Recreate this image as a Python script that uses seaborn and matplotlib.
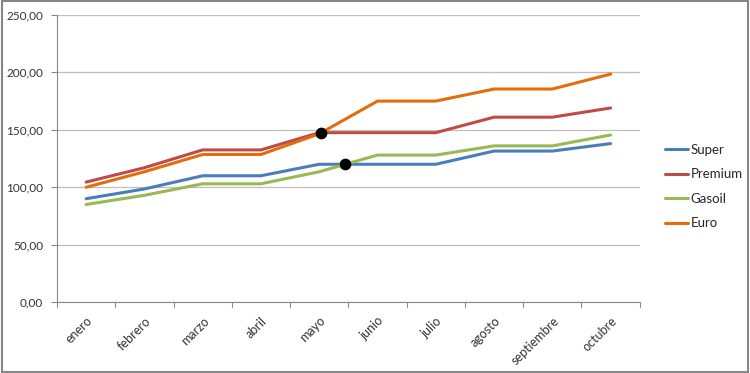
import numpy as np
import pandas as pd
import matplotlib
matplotlib.use("Agg")
import matplotlib.pyplot as plt
import seaborn as sns
from matplotlib.patches import Rectangle

months = ["enero", "febrero", "marzo", "abril", "mayo", "junio", "julio",
          "agosto", "septiembre", "octubre"]
super_vals = [90.0, 98.5, 110.0, 110.0, 120.0, 120.0, 120.0, 131.5, 131.5, 138.0]
premium_vals = [104.5, 117.0, 132.5, 132.5, 147.5, 147.5, 147.5, 161.0, 161.0, 169.0]
gasoil_vals = [85.0, 93.0, 103.0, 103.0, 113.5, 128.0, 128.0, 136.0, 136.0, 145.5]
euro_vals = [100.0, 113.5, 128.5, 128.5, 146.5, 175.0, 175.0, 185.5, 185.5, 198.5]
series_names = ["Super", "Premium", "Gasoil", "Euro"]
colors = ["#4A7EBB", "#BE4B48", "#98B954", "#E46C0A"]
y_ticks = [0, 50, 100, 150, 200, 250]

series = dict(zip(series_names, [super_vals, premium_vals, gasoil_vals, euro_vals]))
rows = []
for name, vals in series.items():
    for i, v in enumerate(vals):
        rows.append({"idx": i, "value": v, "serie": name})
df = pd.DataFrame(rows)

sns.set_style("white")
plt.rcParams["font.family"] = ["Lato", "DejaVu Sans"]

fig = plt.figure(figsize=(7.5, 3.73), dpi=100)
ax = fig.add_axes([0.076, 0.19, 0.777, 0.77])

sns.lineplot(data=df, x="idx", y="value", hue="serie", hue_order=series_names,
             palette=colors, linewidth=2.2, ax=ax, legend=True, sort=False,
             estimator=None)


def crossing(a, b, seg):
    a0, a1 = a[seg], a[seg + 1]
    b0, b1 = b[seg], b[seg + 1]
    d0, d1 = a0 - b0, a1 - b1
    t = d0 / (d0 - d1)
    return seg + t, a0 + t * (a1 - a0)


p1 = crossing(premium_vals, euro_vals, 4)
p2 = crossing(super_vals, gasoil_vals, 4)
ax.scatter([p1[0], p2[0]], [p1[1], p2[1]], s=55, color="black", zorder=5)

ax.set_xlim(-0.5, len(months) - 0.5)
ax.set_ylim(0, 250)
ax.set_yticks(y_ticks)
ax.set_yticklabels([f"{v:.2f}".replace(".", ",") for v in y_ticks],
                   fontsize=8.5, color="#333333")
ax.set_xticks(range(len(months)))
ax.set_xticklabels(months, rotation=45, ha="right", rotation_mode="anchor",
                   fontsize=9, color="#333333")
ax.tick_params(axis="x", length=0, pad=9)
ax.tick_params(axis="y", length=4, color="#888888", left=True, pad=6)
# boundary ticks on x-axis
for b in np.arange(-0.5, len(months), 1.0):
    ax.plot([b, b], [0, -4], color="#888888", lw=0.8, clip_on=False)
ax.set_xlabel("")
ax.set_ylabel("")
ax.grid(axis="y", color="#BFBFBF", linewidth=0.9)
ax.grid(axis="x", visible=False)
for s in ["top", "right"]:
    ax.spines[s].set_visible(False)
ax.spines["left"].set_color("#888888")
ax.spines["bottom"].set_color("#888888")
ax.spines["left"].set_linewidth(0.8)
ax.spines["bottom"].set_linewidth(0.8)

leg = ax.legend(loc="center left", bbox_to_anchor=(0.878, 0.50),
                bbox_transform=fig.transFigure, frameon=False,
                fontsize=9.5, handlelength=1.75, handletextpad=0.2,
                labelspacing=0.95, borderpad=0)
for line in leg.get_lines():
    line.set_linewidth(2.2)

fig.patches.append(Rectangle((0.002, 0.003), 0.995, 0.993, transform=fig.transFigure,
                             fill=False, edgecolor="#868686", linewidth=1.5))

fig.savefig("out.png", dpi=100)
